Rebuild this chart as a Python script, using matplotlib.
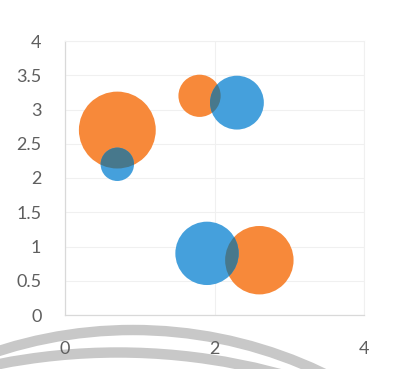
import numpy as np
import matplotlib
matplotlib.use("Agg")
import matplotlib.pyplot as plt
from matplotlib.path import Path
from matplotlib.patches import Circle
from matplotlib.transforms import Affine2D, IdentityTransform

# bubble data (x, y, relative bubble size)
orange_x = [0.7, 1.8, 2.6]
orange_y = [2.7, 3.2, 0.8]
orange_size = [5.3, 1.6, 4.2]

blue_x = [0.7, 2.3, 1.9]
blue_y = [2.2, 3.1, 0.9]
blue_size = [1.0, 2.6, 3.6]

x_ticks = [0, 2, 4]
y_ticks = [0, 0.5, 1, 1.5, 2, 2.5, 3, 3.5, 4]
y_labels = ["0", "0.5", "1", "1.5", "2", "2.5", "3", "3.5", "4"]

ORANGE = "#F7893A"
BLUE = "#45A0DC"
OVERLAP = "#47788C"
SIZE_SCALE = 578  # points^2 per unit of bubble size

W, H = 393, 369
fig = plt.figure(figsize=(W / 100, H / 100), dpi=100)
ax = fig.add_axes([65 / W, 1 - 315 / H, 299 / W, 274 / H])
ax.set_xlim(0, 4)
ax.set_ylim(0, 4)

ax.set_xticks(x_ticks)
ax.set_xticklabels([str(t) for t in x_ticks])
ax.set_yticks(y_ticks)
ax.set_yticklabels(y_labels)
ax.tick_params(length=0, labelsize=13, labelcolor="#5f5f5f")
ax.tick_params(axis="y", pad=17)
ax.tick_params(axis="x", pad=19)
for lab in ax.get_xticklabels() + ax.get_yticklabels():
    lab.set_family("Lato")

ax.grid(True, color="#f0f0f0", lw=0.8)
ax.set_axisbelow(True)
for side in ["top", "right"]:
    ax.spines[side].set_color("#f0f0f0")
    ax.spines[side].set_linewidth(0.8)
for side in ["left", "bottom"]:
    ax.spines[side].set_color("#d9d9d9")
    ax.spines[side].set_linewidth(0.9)

o_s = np.array(orange_size) * SIZE_SCALE
b_s = np.array(blue_size) * SIZE_SCALE
ax.scatter(orange_x, orange_y, s=o_s, color=ORANGE, linewidths=0, zorder=3)
ax.scatter(blue_x, blue_y, s=b_s, color=BLUE, linewidths=0, zorder=4)

# darker overlap where a blue bubble sits on an orange one
fig.canvas.draw()
for ox, oy, os_ in zip(orange_x, orange_y, o_s):
    cx, cy = ax.transData.transform((ox, oy))
    r = np.sqrt(os_) / 2 * fig.dpi / 72
    clip = Path.unit_circle().transformed(Affine2D().scale(r).translate(cx, cy))
    sc = ax.scatter(blue_x, blue_y, s=b_s, color=OVERLAP, linewidths=0, zorder=5)
    sc.set_clip_path(clip, IdentityTransform())

# grey arcs along the bottom edge (pixel coordinates, origin bottom-left)
for cx, top, R in [(133, 330, 440), (118, 352.5, 620)]:
    arc = Circle((cx, H - top - R), R, fill=False, edgecolor="#c8c8c8",
                 lw=7.5, transform=IdentityTransform(), zorder=-1)
    fig.add_artist(arc)

fig.savefig("out.png", dpi=100)
